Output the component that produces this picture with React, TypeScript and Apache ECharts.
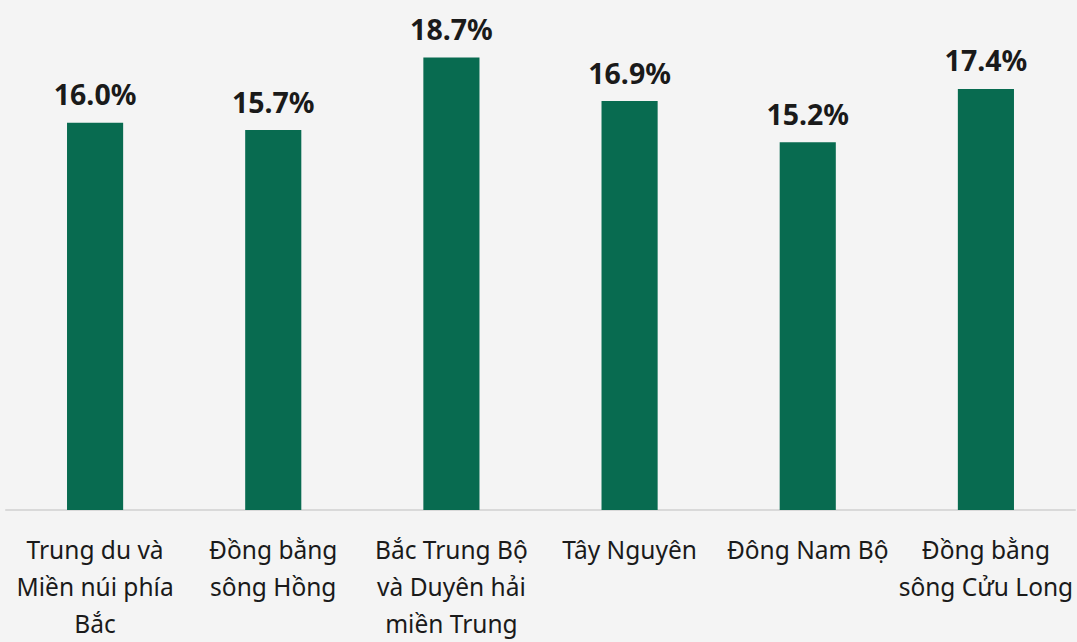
import React, { useEffect, useRef } from "react";
import * as echarts from "echarts";

const categories = [
  "Trung du và\nMiền núi phía\nBắc",
  "Đồng bằng\nsông Hồng",
  "Bắc Trung Bộ\nvà Duyên hải\nmiền Trung",
  "Tây Nguyên",
  "Đông Nam Bộ",
  "Đồng bằng\nsông Cửu Long",
];
const values = [16.0, 15.7, 18.7, 16.9, 15.2, 17.4];

export default function App() {
  const ref = useRef<HTMLDivElement>(null);
  useEffect(() => {
    if (!ref.current) return;
    const chart = echarts.init(ref.current, null, { renderer: "svg" });
    chart.setOption({
      animation: false,
      backgroundColor: "#f4f4f4",
      grid: { left: 6, right: 2, top: 26, bottom: 123, containLabel: false },
      xAxis: {
        type: "category",
        data: categories,
        axisLine: { lineStyle: { color: "#d9d9d9", width: 2 } },
        axisTick: { show: false },
        axisLabel: {
          interval: 0,
          margin: 21,
          fontFamily: "Noto Sans",
          fontSize: 24.5,
          lineHeight: 37,
          color: "#1a1a1a",
        },
      },
      yAxis: {
        type: "value",
        min: 0,
        max: 20,
        show: false,
        splitLine: { show: false },
      },
      series: [
        {
          type: "bar",
          data: values,
          barWidth: "31.5%",
          itemStyle: { color: "#086b50" },
          label: {
            show: true,
            position: "top",
            distance: 14,
            formatter: (p: any) => p.value.toFixed(1) + "%",
            fontFamily: "Noto Sans",
            fontWeight: "bold",
            fontSize: 28.5,
            color: "#1a1a1a",
          },
        },
      ],
    });
    return () => chart.dispose();
  }, []);
  return (
    <div
      ref={ref}
      style={{ position: "fixed", left: 0, top: 0, width: 1077, height: 642, background: "#f4f4f4" }}
    />
  );
}
